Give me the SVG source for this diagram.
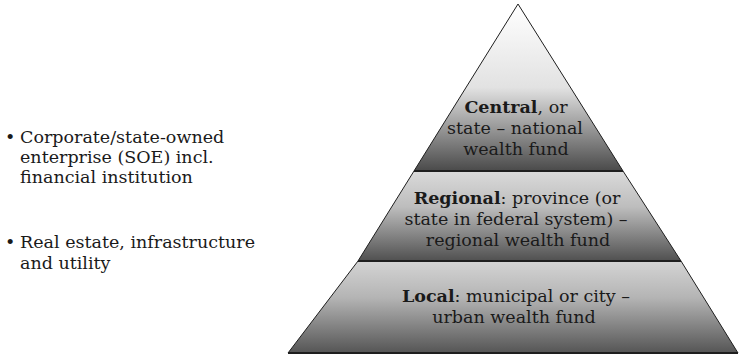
<svg xmlns="http://www.w3.org/2000/svg" width="739" height="355" viewBox="0 0 739 355">
  <style>
    text { font-family: "DejaVu Serif", "Liberation Serif", serif; font-size: 17.5px; fill: #1a1a1a; }
    .c { text-anchor: middle; }
    .b { font-weight: bold; }
    .band { stroke: none; }
    .div { stroke: #1e1e1e; stroke-width: 2; }
    .edge { fill: none; stroke: #1e1e1e; stroke-width: 1; }
  </style>
  <defs>
    <linearGradient id="g1" x1="0" y1="0" x2="0" y2="1">
      <stop offset="0" stop-color="#ffffff"/>
      <stop offset="0.5" stop-color="#e2e2e2"/>
      <stop offset="1" stop-color="#4a4a4a"/>
    </linearGradient>
    <linearGradient id="g2" x1="0" y1="0" x2="0" y2="1">
      <stop offset="0" stop-color="#dadada"/>
      <stop offset="0.4" stop-color="#bdbdbd"/>
      <stop offset="1" stop-color="#505050"/>
    </linearGradient>
    <linearGradient id="g3" x1="0" y1="0" x2="0" y2="1">
      <stop offset="0" stop-color="#d4d4d4"/>
      <stop offset="0.4" stop-color="#b4b4b4"/>
      <stop offset="1" stop-color="#555555"/>
    </linearGradient>
  </defs>

  <g id="bullets">
    <text x="5" y="143">•</text>
    <text x="20" y="143">Corporate/state-owned</text>
    <text x="20" y="163">enterprise (SOE) incl.</text>
    <text x="20" y="183">financial institution</text>
    <text x="5" y="248">•</text>
    <text x="20" y="248">Real estate, infrastructure</text>
    <text x="20" y="269">and utility</text>
  </g>

  <g id="central">
    <polygon class="band" fill="url(#g1)" points="518,4 623,171 414,171"/>
    <text class="c" x="516" y="113"><tspan class="b">Central</tspan>, or</text>
    <text class="c" x="515" y="134">state – national</text>
    <text class="c" x="516" y="155">wealth fund</text>
  </g>

  <g id="regional">
    <polygon class="band" fill="url(#g2)" points="414,171 623,171 681,261 358,261"/>
    <text class="c" x="517" y="204"><tspan class="b">Regional</tspan>: province (or</text>
    <text class="c" x="516" y="225">state in federal system) –</text>
    <text class="c" x="518" y="246">regional wealth fund</text>
  </g>

  <g id="local">
    <polygon class="band" fill="url(#g3)" points="358,261 681,261 738,353 288,353"/>
    <text class="c" x="516" y="302"><tspan class="b">Local</tspan>: municipal or city –</text>
    <text class="c" x="514" y="323">urban wealth fund</text>
  </g>

  <g id="connectors">
    <polyline class="edge" points="288,353 358,261 414,171 518,4 623,171 681,261 738,353"/>
    <line class="div" x1="414" y1="171" x2="623" y2="171"/>
    <line class="div" x1="358" y1="261" x2="681" y2="261"/>
    <line class="div" x1="288" y1="353" x2="738" y2="353"/>
  </g>
</svg>
